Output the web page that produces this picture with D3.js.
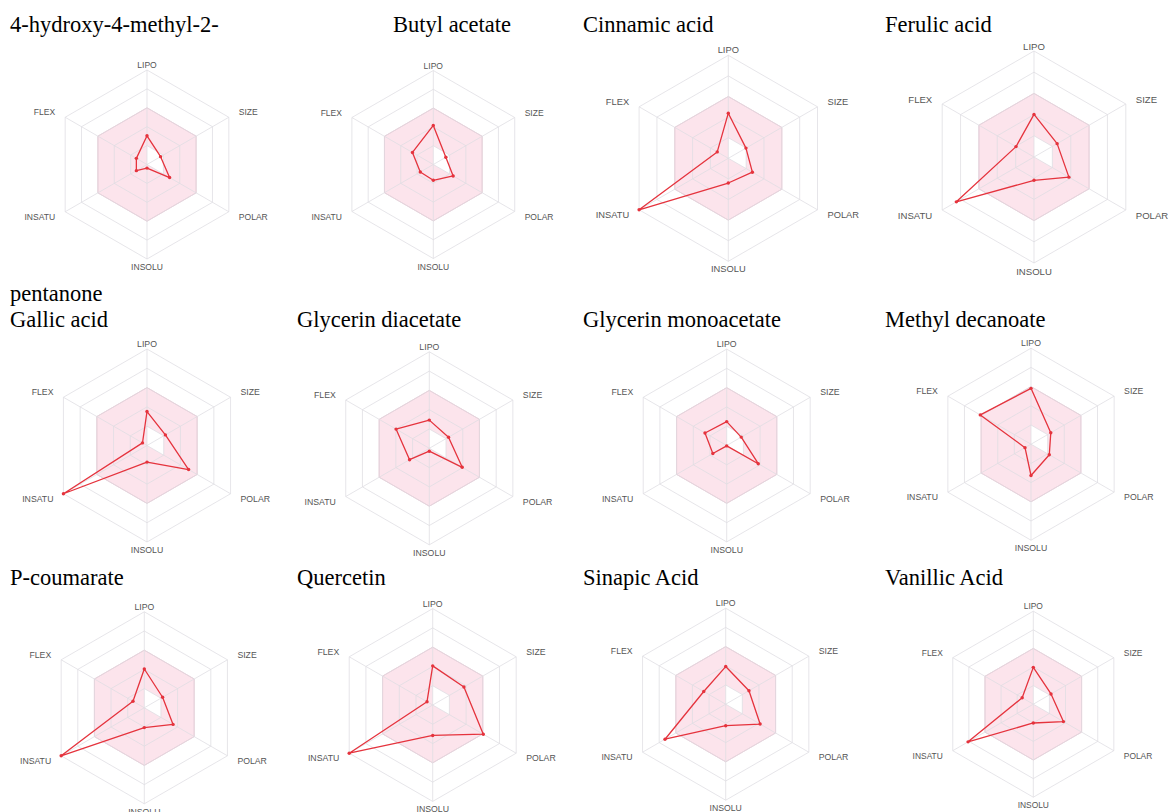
<!DOCTYPE html>
<html>
<head>
<meta charset="utf-8">
<script src="https://cdn.jsdelivr.net/npm/d3@7"></script>
<style>
  html, body { margin: 0; padding: 0; background: #ffffff; }
  svg { display: block; }
</style>
</head>
<body>
<svg id="chart" width="1168" height="812"></svg>
<script>
// Bioavailability radar axes (clockwise from the top)
const axes = ["LIPO", "SIZE", "POLAR", "INSOLU", "INSATU", "FLEX"];

// Panel titles; the first name wraps onto the line above "Gallic acid"
const titles = [
  ["4-hydroxy-4-methyl-2-"], ["Butyl acetate"], ["Cinnamic acid"], ["Ferulic acid"],
  ["pentanone", "Gallic acid"], ["Glycerin diacetate"], ["Glycerin monoacetate"], ["Methyl decanoate"],
  ["P-coumarate"], ["Quercetin"], ["Sinapic Acid"], ["Vanillic Acid"]
];

// Property scores on a 0–5 radial scale, one entry per compound (same order as titles)
const lipo   = [1.52, 2.08, 2.19, 2.01, 1.76, 1.46, 1.24, 2.91, 2.02, 2.03, 1.96, 1.98];
const size   = [0.83, 0.77, 0.99, 1.26, 1.10, 1.15, 0.87, 1.19, 1.10, 1.87, 1.40, 1.10];
const polar  = [1.38, 1.22, 1.35, 1.90, 2.49, 1.97, 1.89, 1.10, 1.73, 3.03, 2.07, 1.87];
const insolu = [0.19, 0.84, 1.20, 1.10, 0.86, 0.15, 0.02, 1.63, 1.03, 1.58, 1.12, 1.01];
const insatu = [0.65, 0.80, 5.00, 4.23, 5.00, 1.18, 0.83, 0.36, 5.00, 5.00, 3.65, 4.05];
const flex   = [0.65, 1.28, 0.62, 0.98, 0.27, 1.99, 1.30, 3.05, 0.68, 0.34, 1.32, 0.69];

// Optimal physicochemical range per axis (pink band): lower and upper bound
const bandLow  = [1, 1, 1, 0, 0, 0];
const bandHigh = [3, 3, 3, 3, 3, 3];
const ringLevels = [1, 2, 3, 4, 5];

// Panel placement: radar centre, outer radius, title anchor
const panels = [
  {cx: 147.0,  cy: 164.5, r: 94.5, tx: 10,  ty: 32},
  {cx: 433.3,  cy: 164.5, r: 94.0, tx: 393, ty: 32},
  {cx: 728.3,  cy: 158.3, r: 103,  tx: 583, ty: 32},
  {cx: 1034.0, cy: 157.0, r: 106,  tx: 885, ty: 32},
  {cx: 147.0,  cy: 445.5, r: 96.5, tx: 10,  ty: 326.7},
  {cx: 429.3,  cy: 448.3, r: 96.5, tx: 297, ty: 326.7},
  {cx: 726.7,  cy: 445.5, r: 96.4, tx: 583, ty: 326.7},
  {cx: 1031.0, cy: 444.2, r: 96.0, tx: 885, ty: 326.7},
  {cx: 144.3,  cy: 707.8, r: 96.0, tx: 10,  ty: 585},
  {cx: 432.7,  cy: 705.0, r: 96.4, tx: 297, ty: 585},
  {cx: 725.7,  cy: 704.2, r: 96.0, tx: 583, ty: 585},
  {cx: 1033.3, cy: 704.2, r: 93.0, tx: 885, ty: 585}
];

const svg = d3.select("#chart");
const angle = d3.scaleLinear().domain([0, axes.length]).range([0, 2 * Math.PI]);

titles.forEach((lines, i) => {
  const p = panels[i];
  const values = [lipo[i], size[i], polar[i], insolu[i], insatu[i], flex[i]];
  const rScale = d3.scaleLinear().domain([0, 5]).range([0, p.r]);
  const g = svg.append("g").attr("transform", `translate(${p.cx},${p.cy})`);

  const radial = d3.lineRadial()
    .angle((d, k) => angle(k))
    .radius(d => rScale(d))
    .curve(d3.curveLinearClosed);

  // Pink optimal band: outer hexagon minus the inner lower-bound polygon
  const outer = radial(bandHigh);
  const inner = radial(bandLow);
  g.append("path")
    .attr("d", outer + inner)
    .attr("fill-rule", "evenodd")
    .attr("fill", "#fce4ec")
    .attr("stroke", "none");
  g.append("path")
    .attr("d", outer)
    .attr("fill", "none")
    .attr("stroke", "#efc3d1")
    .attr("stroke-width", 1);

  // Grid rings
  g.selectAll("path.ring").data(ringLevels).join("path")
    .attr("class", "ring")
    .attr("d", lv => radial(axes.map(() => lv)))
    .attr("fill", "none")
    .attr("stroke", "#dedde2")
    .attr("stroke-opacity", 0.85)
    .attr("stroke-width", 0.9);

  // Spokes
  g.selectAll("line.spoke").data(axes).join("line")
    .attr("class", "spoke")
    .attr("x1", 0).attr("y1", 0)
    .attr("x2", (d, k) => rScale(5) * Math.sin(angle(k)))
    .attr("y2", (d, k) => -rScale(5) * Math.cos(angle(k)))
    .attr("stroke", "#dedde2")
    .attr("stroke-opacity", 0.85)
    .attr("stroke-width", 0.9);

  // Axis labels
  const fs = 8.6 * p.r / 95;
  g.selectAll("text.axis").data(axes).join("text")
    .attr("class", "axis")
    .attr("x", (d, k) => {
      const s = Math.sin(angle(k));
      if (Math.abs(s) < 0.01) return 0;
      return s * (rScale(5) + 11.5);
    })
    .attr("y", (d, k) => {
      const c = Math.cos(angle(k));
      if (c > 0.99) return -(rScale(5) + 5);
      if (c < -0.99) return rScale(5) + 8;
      return -c * (rScale(5) + 10);
    })
    .attr("text-anchor", (d, k) => {
      const s = Math.sin(angle(k));
      return Math.abs(s) < 0.01 ? "middle" : (s > 0 ? "start" : "end");
    })
    .attr("dominant-baseline", "central")
    .attr("font-family", "'Liberation Sans', Arial, sans-serif")
    .attr("font-size", fs)
    .attr("fill", "#555555")
    .text(d => d);

  // Compound profile
  g.append("path")
    .attr("d", radial(values))
    .attr("fill", "none")
    .attr("stroke", "#e5333d")
    .attr("stroke-width", 1.3)
    .attr("stroke-linejoin", "round");
  g.selectAll("circle.pt").data(values).join("circle")
    .attr("class", "pt")
    .attr("cx", (d, k) => rScale(d) * Math.sin(angle(k)))
    .attr("cy", (d, k) => -rScale(d) * Math.cos(angle(k)))
    .attr("r", 1.7)
    .attr("fill", "#e5333d");

  // Title (last line sits on the anchor baseline)
  const t = svg.append("text")
    .attr("font-family", "'Liberation Serif', 'Times New Roman', serif")
    .attr("font-size", 22.5)
    .attr("fill", "#000000");
  lines.forEach((ln, j) => {
    t.append("tspan")
      .attr("x", p.tx)
      .attr("y", p.ty - (lines.length - 1 - j) * 26)
      .text(ln);
  });
});
</script>
</body>
</html>
